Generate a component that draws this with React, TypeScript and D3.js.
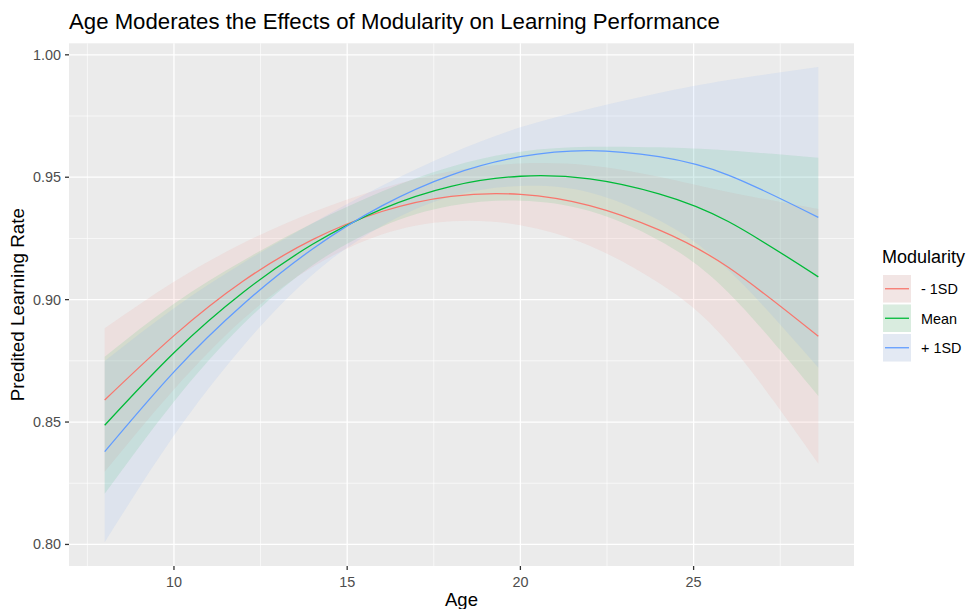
import React, { useEffect } from "react";
import * as d3 from "d3";

// ---- Data ----
const ages = [8, 10, 12, 14, 16, 18, 20, 22, 24, 26, 28.6];

const seriesNames = ["- 1SD", "Mean", "+ 1SD"];
const seriesColors = ["#F8766D", "#00BA38", "#619CFF"];

const fitLow = [0.859, 0.8853, 0.9076, 0.9245, 0.936, 0.9422, 0.943, 0.9384, 0.9285, 0.9132, 0.885];
const lowerLow = [0.8297, 0.8633, 0.8921, 0.9133, 0.9266, 0.932, 0.9304, 0.922, 0.9068, 0.8824, 0.833];
const upperLow = [0.8883, 0.9073, 0.9231, 0.9357, 0.9454, 0.9524, 0.9556, 0.9548, 0.9502, 0.944, 0.937];

const fitMean = [0.8487, 0.8783, 0.903, 0.9226, 0.937, 0.9463, 0.9504, 0.9493, 0.9432, 0.9319, 0.9093];
const lowerMean = [0.8207, 0.8583, 0.89, 0.914, 0.9298, 0.9383, 0.9404, 0.9362, 0.9242, 0.9029, 0.8606];
const upperMean = [0.8767, 0.8983, 0.916, 0.9312, 0.9442, 0.9543, 0.9604, 0.9624, 0.9622, 0.9609, 0.958];

const fitHigh = [0.8379, 0.8705, 0.8981, 0.9207, 0.9383, 0.9509, 0.9584, 0.9609, 0.9584, 0.9509, 0.9336];
const lowerHigh = [0.8009, 0.8445, 0.8811, 0.9102, 0.9301, 0.9421, 0.9464, 0.9438, 0.9324, 0.9121, 0.8722];
const upperHigh = [0.8749, 0.8965, 0.9151, 0.9312, 0.9465, 0.9597, 0.9704, 0.978, 0.9844, 0.9897, 0.995];

const xTicks = [10, 15, 20, 25];
const xMinor = [7.5, 12.5, 17.5, 22.5, 27.5];
const yTicks = [0.8, 0.85, 0.9, 0.95, 1.0];
const yMinor = [0.825, 0.875, 0.925, 0.975];

const titleText = "Age Moderates the Effects of Modularity on Learning Performance";
const xTitle = "Age";
const yTitle = "Predited Learning Rate";
const legendTitle = "Modularity";

// ---- Layout ----
const W = 969;
const H = 609;
const panel = { left: 69, right: 854, top: 43.3, bottom: 566 };
const FONT = "'Liberation Sans', Arial, Helvetica, sans-serif";

const series = [
  { name: seriesNames[0], color: seriesColors[0], fit: fitLow, lower: lowerLow, upper: upperLow },
  { name: seriesNames[1], color: seriesColors[1], fit: fitMean, lower: lowerMean, upper: upperMean },
  { name: seriesNames[2], color: seriesColors[2], fit: fitHigh, lower: lowerHigh, upper: upperHigh },
];

function expand(ext: [number, number], m = 0.05): [number, number] {
  const r = ext[1] - ext[0];
  return [ext[0] - r * m, ext[1] + r * m];
}

export default function App() {
  useEffect(() => {
    document.body.style.margin = "0";
  }, []);

  const xExt = d3.extent(ages) as [number, number];
  const allY = series.flatMap((s) => [...s.lower, ...s.upper, ...s.fit]);
  const yExt = d3.extent(allY) as [number, number];

  const x = d3.scaleLinear().domain(expand(xExt)).range([panel.left, panel.right]);
  const y = d3.scaleLinear().domain(expand(yExt)).range([panel.bottom, panel.top]);

  const curve = d3.curveNatural;

  const area = (s: (typeof series)[number]) =>
    d3
      .area<number>()
      .x((_, i) => x(ages[i]))
      .y0((_, i) => y(s.lower[i]))
      .y1((_, i) => y(s.upper[i]))
      .curve(curve)(ages) || "";

  const line = (s: (typeof series)[number]) =>
    d3
      .line<number>()
      .x((_, i) => x(ages[i]))
      .y((_, i) => y(s.fit[i]))
      .curve(curve)(ages) || "";

  const pw = panel.right - panel.left;
  const ph = panel.bottom - panel.top;

  const legX = 883;
  const keyW = 28;
  const keyH = 27.5;
  const keyTop = 275;
  const keyStep = 29.5;

  return (
    <svg width={W} height={H} style={{ display: "block", background: "#fff" }} fontFamily={FONT}>
      {/* Title */}
      <text x={69} y={28.5} fontSize={22.2} fill="#000">
        {titleText}
      </text>

      {/* Panel background */}
      <rect x={panel.left} y={panel.top} width={pw} height={ph} fill="#EBEBEB" />
      <defs>
        <clipPath id="panelClip">
          <rect x={panel.left} y={panel.top} width={pw} height={ph} />
        </clipPath>
      </defs>

      {/* Minor grid */}
      {xMinor.map((v) => (
        <line key={"xm" + v} x1={x(v)} x2={x(v)} y1={panel.top} y2={panel.bottom} stroke="#fff" strokeWidth={0.65} />
      ))}
      {yMinor.map((v) => (
        <line key={"ym" + v} x1={panel.left} x2={panel.right} y1={y(v)} y2={y(v)} stroke="#fff" strokeWidth={0.65} />
      ))}
      {/* Major grid */}
      {xTicks.map((v) => (
        <line key={"xg" + v} x1={x(v)} x2={x(v)} y1={panel.top} y2={panel.bottom} stroke="#fff" strokeWidth={1.3} />
      ))}
      {yTicks.map((v) => (
        <line key={"yg" + v} x1={panel.left} x2={panel.right} y1={y(v)} y2={y(v)} stroke="#fff" strokeWidth={1.3} />
      ))}

      <g clipPath="url(#panelClip)">
        {series.map((s) => (
          <path key={"a" + s.name} d={area(s)} fill={s.color} fillOpacity={0.1} stroke="none" />
        ))}
        {series.map((s) => (
          <path key={"l" + s.name} d={line(s)} fill="none" stroke={s.color} strokeWidth={1.3} />
        ))}
      </g>

      {/* Y axis ticks & labels */}
      {yTicks.map((v) => (
        <g key={"yt" + v}>
          <line x1={panel.left - 4} x2={panel.left} y1={y(v)} y2={y(v)} stroke="#333" strokeWidth={1.3} />
          <text x={panel.left - 8} y={y(v)} dy="0.35em" textAnchor="end" fontSize={14.4} fill="#4D4D4D">
            {d3.format(".2f")(v)}
          </text>
        </g>
      ))}

      {/* X axis ticks & labels */}
      {xTicks.map((v) => (
        <g key={"xt" + v}>
          <line x1={x(v)} x2={x(v)} y1={panel.bottom} y2={panel.bottom + 4} stroke="#333" strokeWidth={1.3} />
          <text x={x(v)} y={586.5} textAnchor="middle" fontSize={14.4} fill="#4D4D4D">
            {v}
          </text>
        </g>
      ))}

      {/* Axis titles */}
      <text x={(panel.left + panel.right) / 2} y={606} textAnchor="middle" fontSize={18.5} fill="#000">
        {xTitle}
      </text>
      <text
        transform={`translate(23.5, ${(panel.top + panel.bottom) / 2}) rotate(-90)`}
        textAnchor="middle"
        fontSize={18.8}
        fill="#000"
      >
        {yTitle}
      </text>

      {/* Legend */}
      <text x={882} y={263} fontSize={18} fill="#000">
        {legendTitle}
      </text>
      {series.map((s, i) => {
        const ky = keyTop + i * keyStep;
        return (
          <g key={"lg" + s.name}>
            <rect x={legX} y={ky} width={keyW} height={keyH} fill="#F2F2F2" />
            <rect x={legX} y={ky} width={keyW} height={keyH} fill={s.color} fillOpacity={0.1} />
            <line x1={legX + 2} x2={legX + keyW - 2} y1={ky + keyH / 2} y2={ky + keyH / 2} stroke={s.color} strokeWidth={1.3} />
            <text x={921} y={ky + keyH / 2} dy="0.38em" fontSize={14.4} fill="#000">
              {s.name}
            </text>
          </g>
        );
      })}
    </svg>
  );
}
